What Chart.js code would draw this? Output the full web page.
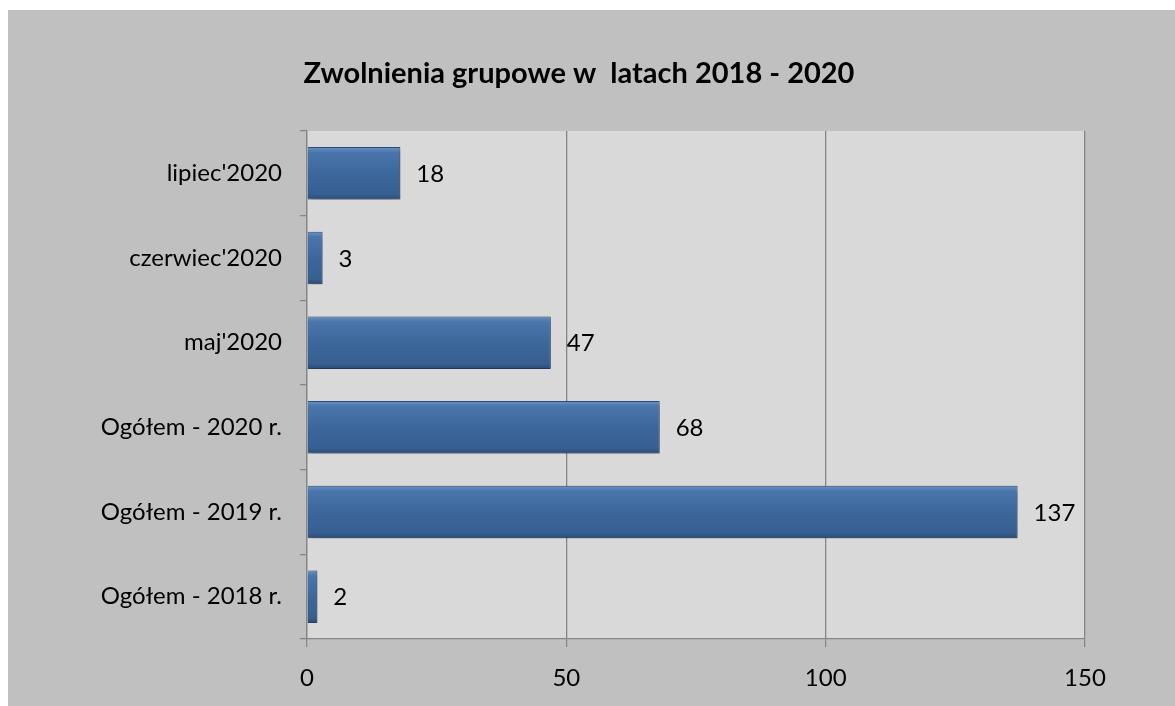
<!DOCTYPE html>
<html>
<head>
<meta charset="utf-8">
<script src="https://cdn.jsdelivr.net/npm/chart.js@4.4.1/dist/chart.umd.min.js"></script>
<style>
    body { margin: 0; background: #ffffff; }
    #box { position: absolute; left: 8px; top: 10px; width: 1167px; height: 696px; background: #c0c0c0; }
</style>
</head>
<body>
<div id="box"><canvas id="chart" width="1167" height="696"></canvas></div>
<script>
// --- DANE ---
const categories = ["lipiec'2020", "czerwiec'2020", "maj'2020", "Ogółem - 2020 r.", "Ogółem - 2019 r.", "Ogółem - 2018 r."];
const values = [18, 3, 47, 68, 137, 2];
const xTicks = [0, 50, 100, 150];
const chartTitle = "Zwolnienia grupowe w  latach 2018 - 2020";

const FONT = "Lato, 'Open Sans', sans-serif";
const BAR_PCT = 0.62;

// tło obszaru wykresu + tytuł (wyśrodkowany na całym polu, nie na obszarze bez marginesu)
const plotBg = {
    id: 'plotBg',
    beforeDraw(chart) {
        const { ctx, chartArea: a } = chart;
        ctx.save();
        ctx.fillStyle = '#d9d9d9';
        ctx.fillRect(a.left, a.top, a.right - a.left, a.bottom - a.top);
        ctx.restore();
    },
    afterDraw(chart) {
        const ctx = chart.ctx;
        ctx.save();
        ctx.font = `bold 29px ${FONT}`;
        ctx.fillStyle = '#000';
        ctx.textAlign = 'center';
        ctx.textBaseline = 'middle';
        ctx.fillText(chartTitle, 571, 64);
        ctx.restore();
    }
};

// cień słupków + etykiety wartości
const barExtras = {
    id: 'barExtras',
    beforeDatasetsDraw(chart) {
        const ctx = chart.ctx;
        ctx.save();
        ctx.shadowColor = 'rgba(0,0,0,0.35)';
        ctx.shadowBlur = 6;
        ctx.shadowOffsetX = 2;
        ctx.shadowOffsetY = 3;
    },
    afterDatasetsDraw(chart) {
        const ctx = chart.ctx;
        ctx.restore();
        ctx.save();
        ctx.font = `24px ${FONT}`;
        ctx.fillStyle = '#000';
        ctx.textBaseline = 'middle';
        ctx.textAlign = 'left';
        chart.getDatasetMeta(0).data.forEach((bar, i) => {
            ctx.fillText(values[i], bar.x + 16, bar.y + 1);
        });
        ctx.restore();
    }
};

// gradient "wypukłego" słupka
function barFill(c) {
    const chart = c.chart;
    const y = chart.scales.y;
    if (!chart.chartArea || !y || c.dataIndex === undefined) return '#3c679b';
    const step = (y.bottom - y.top) / categories.length;
    const mid = y.getPixelForValue(c.dataIndex);
    const h = step * BAR_PCT;
    const g = chart.ctx.createLinearGradient(0, mid - h / 2, 0, mid + h / 2);
    g.addColorStop(0, '#6b94c8');
    g.addColorStop(0.1, '#4a76ab');
    g.addColorStop(0.5, '#3c679b');
    g.addColorStop(0.9, '#375f91');
    g.addColorStop(1, '#2a4a74');
    return g;
}

new Chart(document.getElementById('chart'), {
    type: 'bar',
    data: {
        labels: categories,
        datasets: [{
            data: values,
            backgroundColor: barFill,
            borderColor: '#2b4f7e',
            borderWidth: 1,
            categoryPercentage: 1,
            barPercentage: BAR_PCT
        }]
    },
    options: {
        indexAxis: 'y',
        responsive: false,
        animation: false,
        layout: { padding: { left: 0, right: 90, top: 121, bottom: 0 } },
        plugins: {
            legend: { display: false },
            tooltip: { enabled: false },
            title: { display: false }
        },
        scales: {
            x: {
                min: 0, max: 150,
                afterFit(s) { s.height = 67; },
                afterBuildTicks(s) { s.ticks = xTicks.map(v => ({ value: v })); },
                ticks: { color: '#000', font: { family: FONT, size: 24 }, padding: 17 },
                grid: { color: '#868686', lineWidth: 1.3, tickLength: 8 },
                border: { color: '#868686', width: 1.3 }
            },
            y: {
                afterFit(s) { s.width = 299; },
                ticks: { color: '#000', font: { family: FONT, size: 24 }, padding: 18 },
                grid: { drawOnChartArea: false, offset: true, color: '#868686', tickLength: 7, lineWidth: 1.3 },
                border: { color: '#868686', width: 1.3 }
            }
        }
    },
    plugins: [plotBg, barExtras]
});
</script>
</body>
</html>
